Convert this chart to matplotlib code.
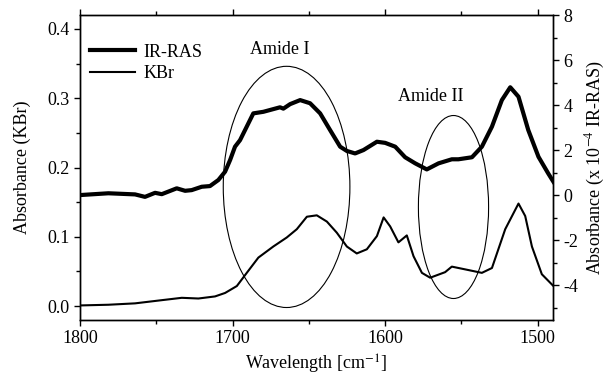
import matplotlib
matplotlib.use("Agg")
import matplotlib.pyplot as plt
from matplotlib.patches import Ellipse
from matplotlib.ticker import MultipleLocator, FormatStrFormatter

plt.rcParams['font.family'] = ['Liberation Serif', 'DejaVu Serif']
plt.rcParams['mathtext.fontset'] = 'stix'
plt.rcParams['axes.unicode_minus'] = False

# IR-RAS (right axis, x 10^-4)
irras_wn = [1800, 1781.4, 1763.9, 1757.4, 1750.8, 1746.4, 1736.6, 1731.1, 1726.8, 1720.2,
            1714.8, 1709.3, 1704.9, 1701.6, 1698.4, 1695.1, 1686.4, 1679.8, 1668.9, 1666.7,
            1662.3, 1655.7, 1649.2, 1642.6, 1636.1, 1629.5, 1625.1, 1619.7, 1614.2, 1605.4,
            1600.0, 1593.4, 1586.9, 1580.3, 1572.7, 1565.0, 1556.3, 1552.0, 1543.1, 1536.6,
            1530.0, 1523.5, 1518.0, 1512.6, 1506.2, 1499.5, 1493.1, 1489.7]
irras_val = [0.00, 0.08, 0.03, -0.08, 0.10, 0.04, 0.30, 0.19, 0.22, 0.37,
             0.40, 0.67, 1.04, 1.56, 2.15, 2.44, 3.63, 3.70, 3.90, 3.84,
             4.04, 4.22, 4.08, 3.63, 2.89, 2.15, 1.96, 1.85, 2.00, 2.37,
             2.32, 2.15, 1.68, 1.41, 1.14, 1.41, 1.59, 1.59, 1.68, 2.15,
             3.04, 4.22, 4.79, 4.37, 2.89, 1.70, 0.96, 0.59]

# KBr (left axis)
kbr_wn = [1800, 1781.4, 1763.9, 1748.7, 1733.3, 1722.4, 1711.5, 1704.9, 1699.5, 1697.2,
          1690.7, 1683.1, 1673.3, 1664.5, 1657.9, 1651.3, 1644.8, 1638.2, 1631.7, 1625.1,
          1618.6, 1612.0, 1605.4, 1601.0, 1596.7, 1591.3, 1585.8, 1581.4, 1575.9, 1570.5,
          1560.7, 1556.3, 1547.5, 1536.6, 1530.0, 1521.3, 1512.6, 1508.2, 1503.8, 1497.3, 1489.7]
kbr_val = [0.001, 0.002, 0.004, 0.008, 0.012, 0.011, 0.014, 0.019, 0.026, 0.029,
           0.048, 0.070, 0.086, 0.099, 0.111, 0.129, 0.131, 0.122, 0.106, 0.086,
           0.076, 0.082, 0.101, 0.128, 0.115, 0.092, 0.102, 0.072, 0.048, 0.041,
           0.049, 0.057, 0.053, 0.048, 0.055, 0.111, 0.148, 0.130, 0.086, 0.046, 0.029]

# Annotation ellipses: (center wn, center y, width wn, height y) on left axis
ellipses = [(1664.6, 0.172, 83.0, 0.348), (1555.2, 0.143, 46.0, 0.264)]
labels = ["Amide I", "Amide II"]
label_pos = [(1669, 0.37), (1570, 0.302)]

FS = 13

fig = plt.figure(figsize=(6.06, 3.89), dpi=100)
ax = fig.add_axes([0.132, 0.1774, 0.7805, 0.784])
ax2 = ax.twinx()

l2, = ax.plot(kbr_wn, kbr_val, color='black', lw=1.5, label='KBr')
l1, = ax2.plot(irras_wn, irras_val, color='black', lw=3.0, label='IR-RAS', solid_joinstyle='round')

for (cx, cy, w, h) in ellipses:
    ax.add_patch(Ellipse((cx, cy), w, h, fill=False, lw=0.8, edgecolor='black'))
for t, (px, py) in zip(labels, label_pos):
    ax.text(px, py, t, ha='center', va='center', fontsize=FS)

ax.set_xlim(1800, 1490)
ax.set_ylim(-0.02, 0.42)
ax2.set_ylim(-5.55, 8)

ax.xaxis.set_major_locator(MultipleLocator(100))
ax.xaxis.set_minor_locator(MultipleLocator(50))
ax.yaxis.set_major_locator(MultipleLocator(0.1))
ax.yaxis.set_minor_locator(MultipleLocator(0.05))
ax2.yaxis.set_major_locator(MultipleLocator(2))
ax2.yaxis.set_minor_locator(MultipleLocator(1))
ax.yaxis.set_major_formatter(FormatStrFormatter('%.1f'))

ax.tick_params(axis='both', which='both', direction='out', labelsize=FS, width=1)
ax.tick_params(axis='x', which='both', top=True)
ax.tick_params(which='major', length=4)
ax.tick_params(which='minor', length=3)
ax2.tick_params(which='both', direction='out', labelsize=FS, width=1)
ax2.tick_params(which='major', length=4)
ax2.tick_params(which='minor', length=3)

for a in (ax, ax2):
    for s in a.spines.values():
        s.set_linewidth(1.0)

ax.set_xlabel('Wavelength [cm$^{-1}$]', fontsize=FS)
ax.set_ylabel('Absorbance (KBr)', fontsize=FS, labelpad=12)
ax2.set_ylabel('Absorbance (x 10$^{-4}$ IR-RAS)', fontsize=FS)

ax.legend([l1, l2], ['IR-RAS', 'KBr'], loc='upper left', frameon=False, fontsize=FS,
          handlelength=2.5, borderaxespad=0.0, bbox_to_anchor=(0.005, 0.93),
          labelspacing=0.25, handletextpad=0.5)

fig.savefig('out.png', dpi=100)
